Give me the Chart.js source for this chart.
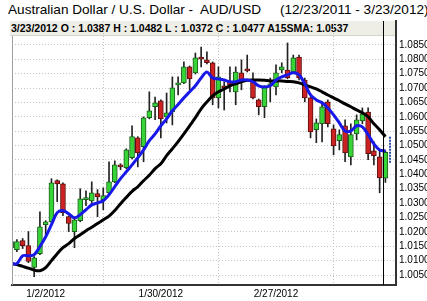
<!DOCTYPE html>
<html>
<head>
<meta charset="utf-8">
<script src="https://cdn.jsdelivr.net/npm/chart.js@4.4.1/dist/chart.umd.min.js"></script>
<style>
  body { margin: 0; background: #fff; }
  #wrap { position: relative; width: 427px; height: 301px; overflow: hidden; }
  #title { position: absolute; left: 8px; top: 3px; font: 13.6px "Liberation Sans", Arial, sans-serif; line-height: 14px; white-space: pre; color: #000; }
  #info { position: absolute; left: 10px; top: 21px; width: 385px; height: 15px; box-sizing: border-box; padding-left: 1px;
          background: #eeede6; border-bottom: 1px solid #d4d3cc;
          font: bold 10.5px "Liberation Sans", Arial, sans-serif; line-height: 15px; color: #000; white-space: pre; }
  canvas { position: absolute; left: 0; top: 0; }
</style>
</head>
<body>
<div id="wrap">
  <div id="title">Australian Dollar / U.S. Dollar -  AUD/USD     (12/23/2011 - 3/23/2012)</div>
  <div id="info">3/23/2012 O : 1.0387 H : 1.0482 L : 1.0372 C : 1.0477 A15SMA: 1.0537</div>
  <canvas id="myChart" width="427" height="301"></canvas>
</div>
<script>
// trading days
const dates = [
  '12/23/2011', '12/26/2011', '12/27/2011', '12/28/2011', '12/29/2011', '12/30/2011',
  '1/2/2012', '1/3/2012', '1/4/2012', '1/5/2012', '1/6/2012', '1/9/2012', '1/10/2012', '1/11/2012', '1/12/2012', '1/13/2012',
  '1/16/2012', '1/17/2012', '1/18/2012', '1/19/2012', '1/20/2012', '1/23/2012', '1/24/2012', '1/25/2012', '1/26/2012', '1/27/2012',
  '1/30/2012', '1/31/2012', '2/1/2012', '2/2/2012', '2/3/2012', '2/6/2012', '2/7/2012', '2/8/2012', '2/9/2012', '2/10/2012',
  '2/13/2012', '2/14/2012', '2/15/2012', '2/16/2012', '2/17/2012', '2/20/2012', '2/21/2012', '2/22/2012', '2/23/2012', '2/24/2012',
  '2/27/2012', '2/28/2012', '2/29/2012', '3/1/2012', '3/2/2012', '3/5/2012', '3/6/2012', '3/7/2012', '3/8/2012', '3/9/2012',
  '3/12/2012', '3/13/2012', '3/14/2012', '3/15/2012', '3/16/2012', '3/19/2012', '3/20/2012', '3/21/2012', '3/22/2012', '3/23/2012'
]
const opens = [
  1.0145, 1.0138, 1.0170, 1.0152, 1.0076, 1.0124, 1.0225, 1.0235, 1.0378, 1.0367,
  1.0253, 1.0201, 1.0239, 1.0312, 1.0308, 1.0333, 1.0312, 1.0336, 1.0374, 1.0433,
  1.0423, 1.0458, 1.0527, 1.0496, 1.0597, 1.0635, 1.0656, 1.0600, 1.0617, 1.0711,
  1.0718, 1.0774, 1.0753, 1.0808, 1.0798, 1.0788, 1.0666, 1.0708, 1.0722, 1.0687,
  1.0753, 1.0763, 1.0728, 1.0659, 1.0635, 1.0708, 1.0704, 1.0763, 1.0763, 1.0756,
  1.0808, 1.0728, 1.0666, 1.0555, 1.0576, 1.0652, 1.0558, 1.0517, 1.0569, 1.0461,
  1.0541, 1.0586, 1.0617, 1.0482, 1.0461, 1.0387
]
const highs = [
  1.0177, 1.0173, 1.0177, 1.0201, 1.0114, 1.0270, 1.0239, 1.0385, 1.0381, 1.0371,
  1.0256, 1.0246, 1.0350, 1.0343, 1.0374, 1.0347, 1.0353, 1.0444, 1.0447, 1.0437,
  1.0489, 1.0569, 1.0531, 1.0600, 1.0687, 1.0669, 1.0659, 1.0683, 1.0739, 1.0739,
  1.0791, 1.0777, 1.0822, 1.0843, 1.0826, 1.0791, 1.0774, 1.0722, 1.0774, 1.0774,
  1.0798, 1.0815, 1.0753, 1.0662, 1.0708, 1.0735, 1.0781, 1.0788, 1.0857, 1.0815,
  1.0815, 1.0735, 1.0669, 1.0593, 1.0652, 1.0659, 1.0572, 1.0555, 1.0590, 1.0576,
  1.0607, 1.0631, 1.0631, 1.0513, 1.0485, 1.0482
]
const lows = [
  1.0135, 1.0131, 1.0142, 1.0093, 1.0044, 1.0121, 1.0190, 1.0232, 1.0305, 1.0256,
  1.0201, 1.0145, 1.0235, 1.0291, 1.0294, 1.0253, 1.0277, 1.0333, 1.0371, 1.0416,
  1.0420, 1.0454, 1.0426, 1.0444, 1.0593, 1.0590, 1.0527, 1.0579, 1.0572, 1.0676,
  1.0715, 1.0694, 1.0749, 1.0774, 1.0784, 1.0642, 1.0631, 1.0624, 1.0687, 1.0642,
  1.0694, 1.0756, 1.0662, 1.0607, 1.0597, 1.0652, 1.0676, 1.0753, 1.0732, 1.0753,
  1.0728, 1.0652, 1.0527, 1.0510, 1.0513, 1.0565, 1.0468, 1.0485, 1.0444, 1.0433,
  1.0520, 1.0576, 1.0451, 1.0433, 1.0336, 1.0372
]
const closes = [
  1.0166, 1.0166, 1.0152, 1.0097, 1.0110, 1.0218, 1.0235, 1.0371, 1.0367, 1.0267,
  1.0229, 1.0242, 1.0315, 1.0315, 1.0336, 1.0322, 1.0326, 1.0374, 1.0433, 1.0426,
  1.0485, 1.0531, 1.0475, 1.0597, 1.0621, 1.0649, 1.0593, 1.0614, 1.0701, 1.0718,
  1.0774, 1.0732, 1.0805, 1.0801, 1.0788, 1.0666, 1.0739, 1.0701, 1.0711, 1.0756,
  1.0722, 1.0760, 1.0666, 1.0635, 1.0704, 1.0715, 1.0753, 1.0774, 1.0735, 1.0805,
  1.0735, 1.0666, 1.0548, 1.0579, 1.0635, 1.0576, 1.0499, 1.0538, 1.0475, 1.0538,
  1.0590, 1.0610, 1.0472, 1.0465, 1.0388, 1.0477
]
// blue fast average
const fastMA = [
  1.0090, 1.0090, 1.0117, 1.0117, 1.0121, 1.0149, 1.0183, 1.0225, 1.0267, 1.0274,
  1.0263, 1.0249, 1.0260, 1.0277, 1.0294, 1.0301, 1.0308, 1.0329, 1.0357, 1.0385,
  1.0409, 1.0433, 1.0458, 1.0485, 1.0517, 1.0541, 1.0569, 1.0593, 1.0621, 1.0643,
  1.0666, 1.0687, 1.0708, 1.0735, 1.0756, 1.0735, 1.0732, 1.0728, 1.0722, 1.0722,
  1.0728, 1.0728, 1.0722, 1.0708, 1.0704, 1.0708, 1.0728, 1.0739, 1.0746, 1.0753,
  1.0746, 1.0715, 1.0676, 1.0659, 1.0649, 1.0631, 1.0607, 1.0579, 1.0551, 1.0551,
  1.0569, 1.0565, 1.0538, 1.0506, 1.0485, 1.0482
]
// black A15SMA
const sma15 = [
  1.0090, 1.0086, 1.0080, 1.0074, 1.0067, 1.0065, 1.0076, 1.0100, 1.0124, 1.0145,
  1.0159, 1.0177, 1.0190, 1.0204, 1.0216, 1.0229, 1.0242, 1.0255, 1.0274, 1.0298,
  1.0320, 1.0341, 1.0357, 1.0378, 1.0397, 1.0420, 1.0437, 1.0465, 1.0489, 1.0514,
  1.0541, 1.0569, 1.0597, 1.0628, 1.0652, 1.0673, 1.0687, 1.0697, 1.0708, 1.0715,
  1.0722, 1.0727, 1.0728, 1.0728, 1.0727, 1.0725, 1.0725, 1.0725, 1.0723, 1.0722,
  1.0718, 1.0711, 1.0704, 1.0697, 1.0687, 1.0676, 1.0666, 1.0656, 1.0645, 1.0635,
  1.0624, 1.0614, 1.0600, 1.0576, 1.0555, 1.0531
]
const lastRange = [1.0440, 1.0532]
const xTickLabels = ['1/2/2012', '1/30/2012', '2/27/2012']
const yTicks = [1.005, 1.010, 1.015, 1.020, 1.025, 1.030, 1.035, 1.040, 1.045,
  1.050, 1.055, 1.060, 1.065, 1.070, 1.075, 1.080, 1.085]

const up = (i) => closes[i] >= opens[i]

// gray left edge + black marker line on the last bar
const frameLines = {
  id: 'frameLines',
  afterDatasetsDraw(chart) {
    const { ctx, chartArea, scales } = chart
    ctx.save()
    ctx.lineWidth = 1
    ctx.strokeStyle = '#a0a0a0'
    ctx.beginPath()
    ctx.moveTo(chartArea.left + 0.5, chartArea.top + 15)
    ctx.lineTo(chartArea.left + 0.5, chartArea.bottom)
    ctx.stroke()
    const lx = Math.round(scales.x.getPixelForValue(dates.length - 1)) - 1.5
    ctx.strokeStyle = '#000'
    ctx.beginPath()
    ctx.moveTo(lx, chartArea.top)
    ctx.lineTo(lx, chartArea.bottom)
    ctx.stroke()
    ctx.restore()
  }
}

function render() {
    Chart.defaults.font.family = '"Liberation Sans", Arial, sans-serif'
    const grafica = document.querySelector('#myChart')
    const idx = dates.map((d, i) => i)

    const data = {
        datasets: [
            {
                type: 'line', label: 'fast', order: 0,
                data: idx.map(i => ({ x: i, y: fastMA[i] })),
                borderColor: '#1818e8', borderWidth: 3, pointRadius: 0, tension: 0.35
            },
            {
                type: 'line', label: 'A15SMA', order: 1,
                data: idx.map(i => ({ x: i, y: sma15[i] })),
                borderColor: '#000', borderWidth: 3, pointRadius: 0, tension: 0.35
            },
            {
                type: 'line', label: 'range', order: 0,
                data: lastRange.map(v => ({ x: dates.length - 0.2, y: v })),
                borderColor: '#3050a8', borderWidth: 2, borderDash: [2, 1], pointRadius: 0
            },
            {
                type: 'bar', label: 'body', order: 2, grouped: false,
                data: idx.map(i => ({ x: i, y: [Math.min(opens[i], closes[i]), Math.max(opens[i], closes[i])] })),
                backgroundColor: idx.map(i => up(i) ? '#36d436' : '#cc2222'),
                borderColor: idx.map(i => up(i) ? '#1d5e1d' : '#5a1010'),
                borderWidth: 1, borderSkipped: false, barThickness: 5, minBarLength: 2
            },
            {
                type: 'bar', label: 'wick', order: 3, grouped: false,
                data: idx.map(i => ({ x: i, y: [lows[i], highs[i]] })),
                backgroundColor: '#222', barThickness: 1
            }
        ]
    }

    const config = {
        type: 'bar',
        data: data,
        options: {
            responsive: false,
            animation: false,
            layout: { padding: { left: 12, top: 21, right: 0, bottom: 0 } },
            plugins: { legend: { display: false }, tooltip: { enabled: false } },
            scales: {
                x: {
                    type: 'linear', min: 0.15, max: 66.84, offset: false,
                    afterBuildTicks: (scale) => { scale.ticks = xTickLabels.map(l => ({ value: dates.indexOf(l) })) },
                    afterFit: (scale) => { scale.height = 16 },
                    ticks: { callback: (v) => dates[v], color: '#000', font: { size: 10 }, padding: 3, maxRotation: 0, autoSkip: false },
                    grid: { color: '#c4c4c4', drawTicks: false },
                    border: { color: '#333', width: 2, dash: [1, 2] }
                },
                y: {
                    position: 'right', min: 1.00153, max: 1.09333,
                    afterBuildTicks: (scale) => { scale.ticks = yTicks.map(v => ({ value: v })) },
                    afterFit: (scale) => { scale.width = 31 },
                    ticks: { callback: (v) => v.toFixed(4), color: '#000', font: { size: 10 }, padding: 3 },
                    grid: { color: '#c4c4c4', drawTicks: false },
                    border: { color: '#333', width: 2, dash: [1, 2] }
                }
            }
        },
        plugins: [frameLines]
    }
    const myChart = new Chart(grafica, config)
}

document.addEventListener('DOMContentLoaded', () => {
    render()
})
</script>
</body>
</html>
